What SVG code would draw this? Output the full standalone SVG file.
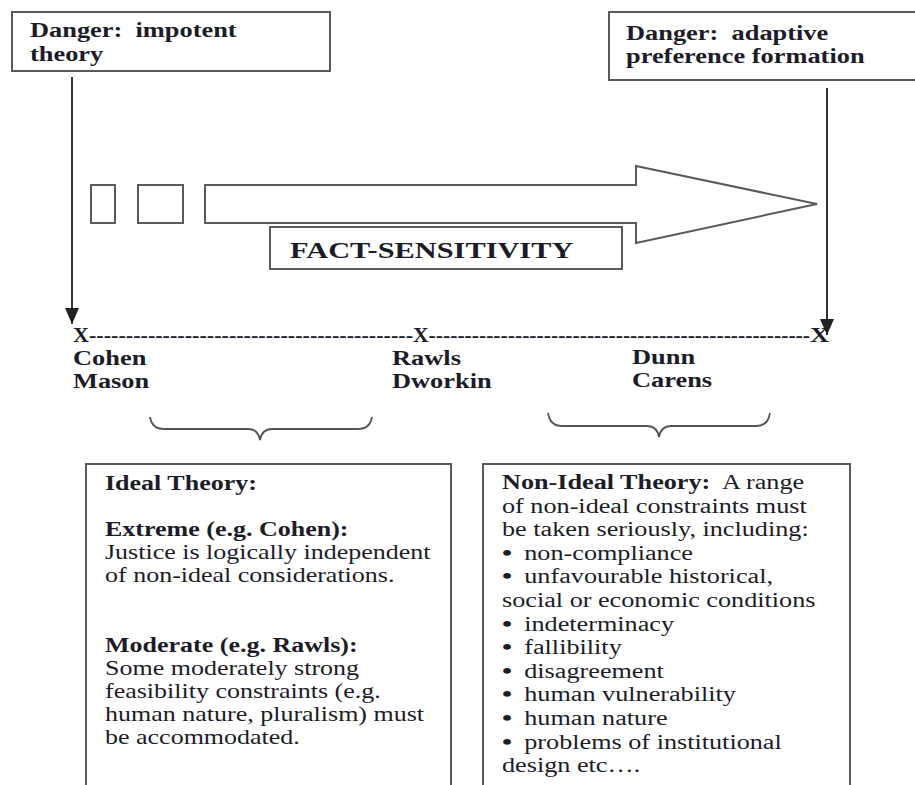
<svg xmlns="http://www.w3.org/2000/svg" width="915" height="785" viewBox="0 0 915 785">
<style>
  .box { fill: #fff; stroke: #5a5a5a; stroke-width: 2; }
  .t { font-family: "Liberation Serif", "Times New Roman", serif; font-size: 20px; fill: #1c1c28; white-space: pre; }
  .b { font-weight: bold; }
  .bul { font-weight: bold; font-size: 22px; }
  .ln { stroke: #333; stroke-width: 2; fill: none; }
  .brace { stroke: #555; stroke-width: 1.8; fill: none; }
</style>
<defs>
  <marker id="ah" markerWidth="18" markerHeight="14" refX="16" refY="7" orient="auto" markerUnits="userSpaceOnUse">
    <path d="M0,0 L16,7 L0,14 Z" fill="#222"/>
  </marker>
</defs>
<rect width="915" height="785" fill="#fff"/>

<g id="danger-impotent">
  <rect class="box" x="12" y="12" width="318" height="59"/>
  <text class="t b" transform="matrix(1.32 0 0 1 30 37)"><tspan x="0" y="0">Danger:  impotent</tspan><tspan x="0" y="24">theory</tspan></text>
</g>

<g id="danger-adaptive">
  <rect class="box" x="609" y="12" width="330" height="68"/>
  <text class="t b" transform="matrix(1.32 0 0 1 626 40)"><tspan x="0" y="0">Danger:  adaptive</tspan><tspan x="0" y="23">preference formation</tspan></text>
</g>

<g id="fact-arrow">
  <rect class="box" x="91" y="185" width="24" height="38"/>
  <rect class="box" x="138" y="185" width="45" height="38"/>
  <polygon class="box" points="205,185 636,185 636,166 817,204 636,243 636,223 205,223"/>
</g>

<g id="fact-sensitivity">
  <rect class="box" x="270" y="227" width="352" height="42"/>
  <text class="t b" style="font-size:23px" transform="matrix(1.32 0 0 1 290 258)">FACT-SENSITIVITY</text>
</g>

<g id="connectors">
  <line class="ln" x1="72" y1="77" x2="72" y2="324" marker-end="url(#ah)"/>
  <line class="ln" x1="827" y1="88" x2="827" y2="335" marker-end="url(#ah)"/>
  <path class="brace" d="M150,417 Q152,429 164,429 L248,429 Q258,429 260,440 Q262,429 272,429 L358,429 Q370,429 372,417"/>
  <path class="brace" d="M548,413 Q550,426 562,426 L647,426 Q657,426 659,437 Q661,426 671,426 L756,426 Q768,426 770,413"/>
</g>

<g id="scale-line">
  <text class="t b" x="73" y="342" textLength="340" lengthAdjust="spacingAndGlyphs">X--------------------------------------------</text>
  <text class="t b" x="413" y="342" textLength="397" lengthAdjust="spacingAndGlyphs">X-----------------------------------------------------</text>
  <text class="t b" transform="matrix(1.32 0 0 1 810 342)">X</text>
</g>

<g id="cohen-mason">
  <text class="t b" transform="matrix(1.32 0 0 1 73 365)"><tspan x="0" y="0">Cohen</tspan><tspan x="0" y="23">Mason</tspan></text>
</g>
<g id="rawls-dworkin">
  <text class="t b" transform="matrix(1.32 0 0 1 392 365)"><tspan x="0" y="0">Rawls</tspan><tspan x="0" y="23">Dworkin</tspan></text>
</g>
<g id="dunn-carens">
  <text class="t b" transform="matrix(1.32 0 0 1 632 364)"><tspan x="0" y="0">Dunn</tspan><tspan x="0" y="23">Carens</tspan></text>
</g>

<g id="ideal-theory">
  <rect class="box" x="86" y="464" width="365" height="340"/>
  <text class="t" transform="matrix(1.3 0 0 1 105 490)"><tspan x="0" y="0" class="b">Ideal Theory:</tspan><tspan x="0" y="46" class="b">Extreme (e.g. Cohen):</tspan><tspan x="0" y="69">Justice is logically independent</tspan><tspan x="0" y="92">of non-ideal considerations.</tspan><tspan x="0" y="162" class="b">Moderate (e.g. Rawls):</tspan><tspan x="0" y="185">Some moderately strong</tspan><tspan x="0" y="208">feasibility constraints (e.g.</tspan><tspan x="0" y="231">human nature, pluralism) must</tspan><tspan x="0" y="254">be accommodated.</tspan></text>
</g>

<g id="non-ideal-theory">
  <rect class="box" x="483" y="464" width="367" height="340"/>
  <text class="t" transform="matrix(1.31 0 0 1 502 489)"><tspan x="0" y="0" class="b">Non-Ideal Theory:</tspan><tspan>  A range</tspan><tspan x="0" y="23.6">of non-ideal constraints must</tspan><tspan x="0" y="47.2">be taken seriously, including:</tspan><tspan x="0" y="70.8" class="bul">•</tspan><tspan x="17">non-compliance</tspan><tspan x="0" y="94.4" class="bul">•</tspan><tspan x="17">unfavourable historical,</tspan><tspan x="0" y="118">social or economic conditions</tspan><tspan x="0" y="141.6" class="bul">•</tspan><tspan x="17">indeterminacy</tspan><tspan x="0" y="165.2" class="bul">•</tspan><tspan x="17">fallibility</tspan><tspan x="0" y="188.8" class="bul">•</tspan><tspan x="17">disagreement</tspan><tspan x="0" y="212.4" class="bul">•</tspan><tspan x="17">human vulnerability</tspan><tspan x="0" y="236" class="bul">•</tspan><tspan x="17">human nature</tspan><tspan x="0" y="259.6" class="bul">•</tspan><tspan x="17">problems of institutional</tspan><tspan x="0" y="283.2">design etc….</tspan></text>
</g>
</svg>
